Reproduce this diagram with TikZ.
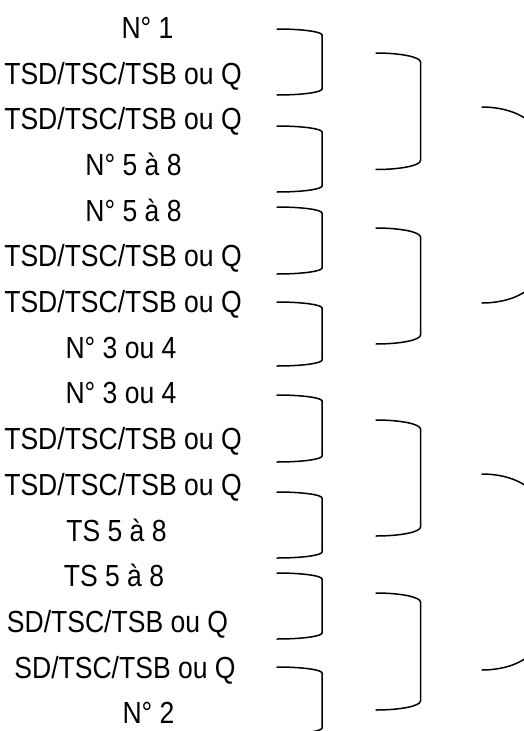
\documentclass[tikz,border=0pt]{standalone}
\usepackage{fontspec}
\setmainfont{Liberation Sans}[FakeStretch=0.87]
\newcommand\mybrk[5]{%
  \draw[br] (#1,#3) .. controls ({#1+0.552*(#2-#1)},#3) and (#2,{#3+0.448*#5}) .. (#2,{#3+#5})
    -- (#2,{#4-#5}) .. controls (#2,{#4-0.448*#5}) and ({#1+0.552*(#2-#1)},#4) .. (#1,#4);}
\begin{document}
\begin{tikzpicture}[x=1pt,y=-1pt,
  lbl/.style={anchor=base, inner sep=0pt, font=\fontsize{30.5}{36}\selectfont},
  br/.style={line width=1.5pt, line cap=round}]
\useasboundingbox (0,0) rectangle (524,731);
\clip (0,0) rectangle (524,731);
% labels
\node[lbl] (t1)  at (147.5, 38.3) {N° 1};
\node[lbl] (t2)  at (123, 84.0) {TSD/TSC/TSB ou Q};
\node[lbl] (t3)  at (123, 129.7) {TSD/TSC/TSB ou Q};
\node[lbl] (t4)  at (133.5, 175.4) {N° 5 à 8};
\node[lbl] (t5)  at (133.5, 221.1) {N° 5 à 8};
\node[lbl] (t6)  at (123, 266.8) {TSD/TSC/TSB ou Q};
\node[lbl] (t7)  at (123, 312.5) {TSD/TSC/TSB ou Q};
\node[lbl] (t8)  at (121, 358.2) {N° 3 ou 4};
\node[lbl] (t9)  at (121, 403.9) {N° 3 ou 4};
\node[lbl] (t10) at (123, 449.6) {TSD/TSC/TSB ou Q};
\node[lbl] (t11) at (123, 495.3) {TSD/TSC/TSB ou Q};
\node[lbl] (t12) at (116.5, 541.0) {TS 5 à 8};
\node[lbl] (t13) at (114, 586.7) {TS 5 à 8};
\node[lbl] (t14) at (117.5, 632.4) {SD/TSC/TSB ou Q};
\node[lbl] (t15) at (125, 678.1) {SD/TSC/TSB ou Q};
\node[lbl] (t16) at (148.5, 723.8) {N° 2};
% small brackets
\mybrk{277}{322}{29}{95}{6}
\mybrk{277}{322}{126}{192}{6}
\mybrk{277}{322}{207}{274}{6}
\mybrk{277}{322}{302}{366}{6}
\mybrk{277}{322}{395}{462}{6}
\mybrk{277}{322}{492}{558}{6}
\mybrk{277}{322}{573}{639}{6}
\mybrk{277}{322}{667}{734}{6}
% middle brackets
\mybrk{376}{420.5}{53}{169.5}{9}
\mybrk{376}{420.5}{228}{344}{9}
\mybrk{376}{420.5}{420}{536}{9}
\mybrk{376}{420.5}{593}{710}{9}
% right brackets (cut by the edge)
\mybrk{482}{537}{107}{303}{30}
\mybrk{482}{537}{474}{670}{30}
\end{tikzpicture}
\end{document}
